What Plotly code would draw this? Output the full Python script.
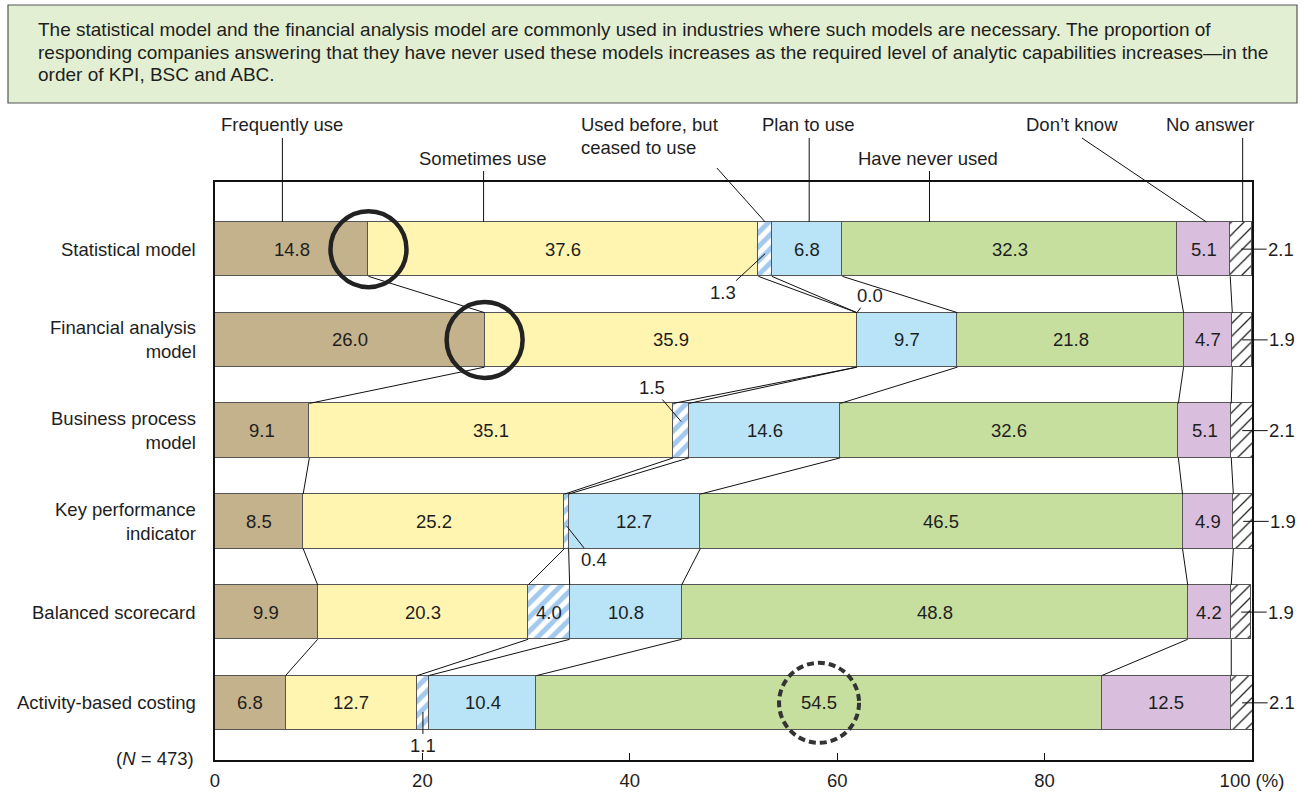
import numpy as np
import plotly.graph_objects as go

# ---- data -------------------------------------------------------------
rows = ["Statistical model", "Financial analysis<br>model", "Business process<br>model",
        "Key performance<br>indicator", "Balanced scorecard", "Activity-based costing"]

frequently_use = [14.8, 26.0, 9.1, 8.5, 9.9, 6.8]
sometimes_use = [37.6, 35.9, 35.1, 25.2, 20.3, 12.7]
ceased_to_use = [1.3, 0.0, 1.5, 0.4, 4.0, 1.1]
plan_to_use = [6.8, 9.7, 14.6, 12.7, 10.8, 10.4]
never_used = [32.3, 21.8, 32.6, 46.5, 48.8, 54.5]
dont_know = [5.1, 4.7, 5.1, 4.9, 4.2, 12.5]
no_answer = [2.1, 1.9, 2.1, 1.9, 1.9, 2.1]

x_ticks = [0, 20, 40, 60, 80, 100]
x_tick_text = ["0", "20", "40", "60", "80", "100 (%)"]

header_lines = [
    "The statistical model and the financial analysis model are commonly used in industries where such models are necessary. The proportion of",
    "responding companies answering that they have never used these models increases as the required level of analytic capabilities increases\u2014in the",
    "order of KPI, BSC and ABC.",
]

# ---- layout constants ---------------------------------------------------
W, H = 1305, 798
L, R, T, B = 215, 53, 182, 38
Y_TOP, Y_BOT = -0.74, 5.63
BAR_W = 0.6
FONT = "Liberation Sans, Arial, Helvetica, sans-serif"
FS = 18.5
FS_HEAD = 19
TXT = "#1e1e1e"


def px_x(px):
    return (px - L) / (W - L - R)


def px_y(py):
    return (H - B - py) / (H - T - B)


def y_paper(yd):
    return (Y_BOT - yd) / (Y_BOT - Y_TOP)


series = [
    ("Frequently use", frequently_use, "#c3b28b", None),
    ("Sometimes use", sometimes_use, "#fff5b1", None),
    ("Used before, but ceased to use", ceased_to_use, "#ffffff",
     dict(shape="/", fgcolor="#a3c9ee", bgcolor="#ffffff", fgopacity=1, solidity=0.5, size=10)),
    ("Plan to use", plan_to_use, "#b9e3f7", None),
    ("Have never used", never_used, "#c6df9f", None),
    ("Don\u2019t know", dont_know, "#d9bfdd", None),
    ("No answer", no_answer, "#ffffff",
     dict(shape="/", fgcolor="#222222", bgcolor="#ffffff", fgopacity=1, solidity=0.14, size=9)),
]

ypos = list(range(len(rows)))
fig = go.Figure()

for name, vals, color, pattern in series:
    marker = dict(color=color, line=dict(color="#555555", width=1.2))
    if pattern:
        marker["pattern"] = pattern
    fig.add_trace(go.Bar(y=ypos, x=vals, orientation="h", width=BAR_W, name=name,
                         marker=marker, hoverinfo="skip", showlegend=False))

# connector lines between segment boundaries of consecutive rows
vals_arr = np.array([s[1] for s in series])
cum = np.cumsum(vals_arr, axis=0)
cx, cy = [], []
for k in range(len(series) - 1):
    for i in range(len(rows) - 1):
        cx += [cum[k, i], cum[k, i + 1], None]
        cy += [i + BAR_W / 2, i + 1 - BAR_W / 2, None]
fig.add_trace(go.Scatter(x=cx, y=cy, mode="lines", line=dict(color="#111111", width=1),
                         hoverinfo="skip", showlegend=False))

annotations = []
shapes = []

# value labels
starts = cum - vals_arr
small_offsets = {  # row: (point dy, ax, ay) for the "ceased to use" labels outside the bar
    0: (0.05, -42, 39),
    1: (-0.3, 13, -17),
    2: (-0.1, -29, -34),
    3: (0.05, 27, 34),
    5: (0.1, 0, 34),
}
for k, (name, vals, color, pattern) in enumerate(series):
    for i, v in enumerate(vals):
        mid = starts[k, i] + v / 2
        label = f"{v:.1f}"
        if k == len(series) - 1:
            annotations.append(dict(x=mid, y=i, xref="x", yref="y", text=label,
                                    showarrow=True, arrowhead=0, arrowwidth=1, arrowcolor="#111",
                                    ax=40, ay=0, standoff=0,
                                    font=dict(size=FS, color=TXT, family=FONT)))
        elif v >= 3:
            annotations.append(dict(x=mid, y=i, xref="x", yref="y", text=label, showarrow=False,
                                    font=dict(size=FS, color=TXT, family=FONT)))
        else:
            dy, ax, ay = small_offsets[i]
            annotations.append(dict(x=mid, y=i + dy, xref="x", yref="y", text=label,
                                    showarrow=True, arrowhead=0, arrowwidth=1, arrowcolor="#111",
                                    ax=ax, ay=ay, standoff=0,
                                    font=dict(size=FS, color=TXT, family=FONT)))

# row labels
for i, r in enumerate(rows):
    annotations.append(dict(x=0, y=i, xref="paper", yref="y", text=r, showarrow=False,
                            xanchor="right", xshift=-17, align="right",
                            font=dict(size=FS, color=TXT, family=FONT)))

# category captions above the bars, with leaders down to the first bar
bar_top = y_paper(-BAR_W / 2)
captions = [
    # text lines, text x px, first line y px, xanchor, line x0 (data), line y0 px, line x1 (data)
    (["Frequently use"], 282, 125, "center", 6.5, 138, 6.5),
    (["Sometimes use"], 483, 158, "center", 25.9, 171, 25.9),
    (["Used before, but", "ceased to use"], 579, 125, "left", 48.4, 168, 53.05),
    (["Plan to use"], 808, 125, "center", 57.3, 138, 57.3),
    (["Have never used"], 928, 158, "center", 68.9, 171, 68.9),
    (["Don\u2019t know"], 1072, 125, "center", 83.6, 138, 95.6),
    (["No answer"], 1210, 125, "center", 99.1, 138, 99.1),
]
for lines, tx, ty, anchor, lx0, ly0, lx1 in captions:
    for j, text in enumerate(lines):
        annotations.append(dict(x=px_x(tx), y=px_y(ty + 22 * j), xref="paper", yref="paper",
                                text=text, showarrow=False, xanchor=anchor, yanchor="middle",
                                font=dict(size=FS, color=TXT, family=FONT)))
    shapes.append(dict(type="line", xref="paper", yref="paper", x0=lx0 / 100, y0=px_y(ly0),
                       x1=lx1 / 100, y1=bar_top, line=dict(color="#111", width=1)))

# sample size
annotations.append(dict(x=px_x(196), y=px_y(758), xref="paper", yref="paper",
                        text="(<i>N</i> = 473)", showarrow=False, xanchor="right",
                        yanchor="middle", font=dict(size=FS, color=TXT, family=FONT)))

# header box
shapes.append(dict(type="rect", xref="paper", yref="paper", x0=px_x(8), x1=px_x(1297),
                   y0=px_y(103), y1=px_y(5), fillcolor="#e3efd2",
                   line=dict(color="#555555", width=1.2), layer="below"))
for j, line in enumerate(header_lines):
    annotations.append(dict(x=px_x(36), y=px_y(30 + 22.5 * j), xref="paper", yref="paper",
                            text=line, showarrow=False, xanchor="left", yanchor="middle",
                            font=dict(size=FS_HEAD, color=TXT, family=FONT)))

# highlight circles
for i in (0, 1):
    shapes.append(dict(type="circle", xref="x", yref="y",
                       xsizemode="pixel", xanchor=cum[0, i], x0=-38, x1=38,
                       ysizemode="pixel", yanchor=i, y0=-38, y1=38,
                       line=dict(color="#222222", width=4.5)))
shapes.append(dict(type="circle", xref="x", yref="y",
                   xsizemode="pixel", xanchor=starts[4, 5] + never_used[5] / 2, x0=-40, x1=40,
                   ysizemode="pixel", yanchor=5, y0=-40, y1=40,
                   line=dict(color="#333333", width=4, dash="7px,4px")))

fig.update_layout(
    width=W, height=H, margin=dict(l=L, r=R, t=T, b=B, autoexpand=False),
    barmode="stack", bargap=0, plot_bgcolor="white", paper_bgcolor="white",
    font=dict(family=FONT, size=FS, color=TXT),
    xaxis=dict(range=[0, 100], tickvals=x_ticks, ticktext=x_tick_text, ticks="inside",
               ticklen=7, tickcolor="#111", showgrid=False, zeroline=False, showline=True,
               mirror=True, linecolor="#111", linewidth=1.5, ticklabelstandoff=3,
               automargin=False,
               tickfont=dict(size=FS, color=TXT, family=FONT), fixedrange=True),
    yaxis=dict(range=[Y_BOT, Y_TOP], showticklabels=False, showgrid=False, zeroline=False,
               showline=True, mirror=True, linecolor="#111", linewidth=1.5, ticks="",
               automargin=False, fixedrange=True),
    annotations=annotations, shapes=shapes,
)

fig.write_html("out.html")
